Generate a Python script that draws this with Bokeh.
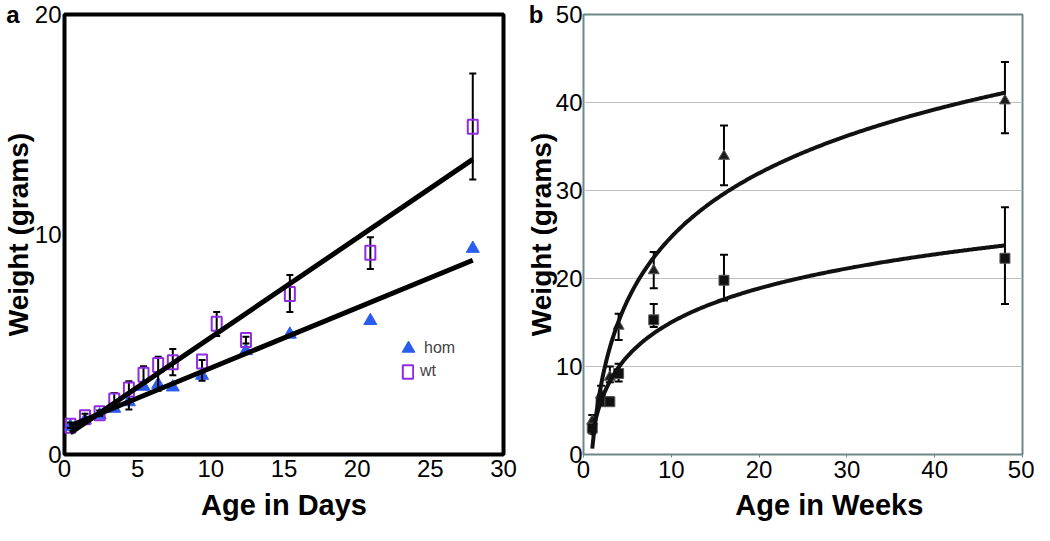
import numpy as np
from bokeh.plotting import figure
from bokeh.models import Range1d, FixedTicker, Legend, LegendItem, LinearAxis
from bokeh.layouts import row
from bokeh.embed import file_html
from bokeh.resources import INLINE

FONT = "Liberation Sans"

# ---------------- Panel a data (age in days) ----------------
days_hom = [0.4, 1.4, 2.4, 3.4, 4.4, 5.4, 6.4, 7.4, 9.4, 12.4, 15.4, 20.9, 27.9]
hom = [1.27, 1.56, 1.79, 2.09, 2.39, 3.09, 3.18, 3.06, 3.59, 4.71, 5.46, 6.08, 9.36]
days_wt = [0.4, 1.4, 2.4, 3.4, 4.4, 5.4, 6.4, 7.4, 9.4, 10.4, 12.4, 15.4, 20.9, 27.9]
wt = [1.31, 1.69, 1.87, 2.46, 2.96, 3.62, 4.07, 4.19, 4.23, 5.94, 5.20, 7.30, 9.17, 14.90]
wt_hi = [1.45, 1.85, 2.00, 2.80, 3.33, 4.01, 4.44, 4.79, 4.30, 6.48, 5.35, 8.16, 9.87, 17.32]
wt_lo = [1.20, 1.55, 1.75, 2.20, 2.04, 3.25, 2.90, 3.60, 3.35, 5.39, 5.05, 6.48, 8.43, 12.50]
a_xticks = [0, 5, 10, 15, 20, 25, 30]
a_yticks = [0, 10, 20]

# ---------------- Panel b data (age in weeks) ----------------
weeks = [1, 2, 3, 4, 8, 16, 48]
tri = [3.8, 6.8, 8.8, 14.6, 20.9, 33.9, 40.2]
tri_hi = [4.5, 7.8, 10.0, 16.0, 23.0, 37.4, 44.6]
tri_lo = [3.0, 6.2, 8.2, 13.0, 18.9, 30.6, 36.5]
sq = [3.0, 6.0, 6.0, 9.2, 15.3, 19.8, 22.3]
sq_hi = [3.6, 6.4, 6.5, 10.3, 17.1, 22.7, 28.1]
sq_lo = [2.4, 5.6, 5.6, 8.3, 14.5, 17.5, 17.1]
b_xticks = [0, 10, 20, 30, 40, 50]
b_yticks = [0, 10, 20, 30, 40, 50]
b_xtitle_at = 28  # where the "Age in Weeks" title is centred (offset right, as in the original)

BLUE = "#2a5cf0"
PURPLE = "#8f2be0"
FRAME_B = "#6d8787"


def style_axis(ax, size):
    ax.axis_line_color = None
    ax.major_tick_line_color = None
    ax.minor_tick_line_color = None
    ax.major_tick_out = 0
    ax.major_tick_in = 0
    ax.minor_tick_out = 0
    ax.minor_tick_in = 0
    ax.major_label_text_font = FONT
    ax.major_label_text_font_size = size
    ax.major_label_text_color = "black"
    ax.axis_label_text_font = FONT
    ax.axis_label_text_font_size = "29px"
    ax.axis_label_text_font_style = "bold"
    ax.axis_label_text_color = "black"


def letter_axis(letter, tick, standoff, title_standoff):
    # outer left axis carrying the panel letter (one label) and the y title
    ax = LinearAxis(ticker=FixedTicker(ticks=[tick]),
                    major_label_overrides={tick: letter})
    style_axis(ax, "24px")
    ax.major_label_text_font_style = "bold"
    ax.major_label_standoff = standoff
    ax.axis_label = "Weight (grams)"
    ax.axis_label_text_font_size = "28px"
    ax.axis_label_standoff = title_standoff
    return ax


# ================= Panel a =================
pa = figure(width=522, height=525, x_range=Range1d(0, 30), y_range=Range1d(0, 20),
            output_backend="svg", toolbar_location=None,
            min_border_left=56, min_border_right=19, min_border_top=14, min_border_bottom=71)
pa.outline_line_color = "black"
pa.outline_line_width = 4
pa.grid.visible = False
xa = pa.xaxis[0]
ya = pa.yaxis[0]
xa.ticker = FixedTicker(ticks=a_xticks)
ya.ticker = FixedTicker(ticks=a_yticks)
style_axis(xa, "24px")
style_axis(ya, "24px")
xa.major_label_standoff = 5
xa.axis_label = "Age in Days"
xa.axis_label_standoff = 9
ya.major_label_standoff = 3
pa.add_layout(letter_axis("a", 20, 12, -31), "left")

tri_r = pa.scatter(days_hom, hom, marker="triangle", size=13,
                   fill_color=BLUE, line_color=BLUE)
pa.segment(x0=days_wt, y0=wt_lo, x1=days_wt, y1=wt_hi, line_color="black", line_width=2)
pa.scatter(days_wt, wt_hi, marker="dash", size=7, line_color="black", line_width=2)
pa.scatter(days_wt, wt_lo, marker="dash", size=7, line_color="black", line_width=2)
sq_r = pa.rect(days_wt, wt, width=10, height=14, width_units="screen", height_units="screen",
               fill_color=None, line_color=PURPLE, line_width=2)

# linear trend lines fitted to each series
for xs, ys in ((days_wt, wt), (days_hom, hom)):
    k, c = np.polyfit(xs, ys, 1)
    xe = np.array([min(xs), max(xs)])
    pa.line(xe, k * xe + c, line_color="black", line_width=5)

leg1 = Legend(items=[LegendItem(label="hom", renderers=[tri_r])], location=(328, 90),
              glyph_width=32, glyph_height=32, label_height=32, padding=0, margin=0,
              spacing=0, label_standoff=-2, border_line_color=None,
              background_fill_alpha=0, label_text_font=FONT, label_text_font_size="16px")
leg2 = Legend(items=[LegendItem(label="wt", renderers=[sq_r])], location=(337, 74),
              glyph_width=13, glyph_height=17, label_height=17, padding=0, margin=0,
              spacing=0, label_standoff=6, border_line_color=None,
              background_fill_alpha=0, label_text_font=FONT, label_text_font_size="16px")
pa.add_layout(leg1)
pa.add_layout(leg2)

# ================= Panel b =================
pb = figure(width=512, height=525, x_range=Range1d(0, 50), y_range=Range1d(0, 50),
            output_backend="svg", toolbar_location=None,
            min_border_left=52, min_border_right=12, min_border_top=14, min_border_bottom=71)
pb.outline_line_color = FRAME_B
pb.outline_line_width = 2
pb.xgrid.visible = False
pb.ygrid.ticker = FixedTicker(ticks=b_yticks)
pb.ygrid.grid_line_color = "#c0c0c0"
pb.ygrid.grid_line_width = 1
xb = pb.xaxis[0]
yb = pb.yaxis[0]
xb.ticker = FixedTicker(ticks=b_xticks)
yb.ticker = FixedTicker(ticks=b_yticks)
style_axis(xb, "24px")
style_axis(yb, "24px")
xb.major_tick_line_color = FRAME_B
xb.major_tick_out = 3
xb.major_label_standoff = 3
yb.major_label_standoff = 1
pb.add_layout(letter_axis("b", 50, 9, -31), "left")

xb2 = LinearAxis(ticker=FixedTicker(ticks=[b_xtitle_at]),
                 major_label_overrides={b_xtitle_at: "Age in Weeks"})
style_axis(xb2, "29px")
xb2.major_label_text_font_style = "bold"
xb2.major_label_standoff = 8
pb.add_layout(xb2, "below")

for ys, lo, hi in ((tri, tri_lo, tri_hi), (sq, sq_lo, sq_hi)):
    pb.segment(x0=weeks, y0=lo, x1=weeks, y1=hi, line_color="black", line_width=2)
    pb.scatter(weeks, hi, marker="dash", size=8, line_color="black", line_width=2)
    pb.scatter(weeks, lo, marker="dash", size=8, line_color="black", line_width=2)
pb.scatter(weeks, tri, marker="triangle", size=11, fill_color="#1c1c1c", line_color="#5a5a5a")
pb.scatter(weeks, sq, marker="square", size=10, fill_color="#111111", line_color="#5a5a5a")

# logarithmic trend curves fitted to each series
for ys in (tri, sq):
    k, c = np.polyfit(np.log(weeks), ys, 1)
    xc = np.linspace(weeks[0], weeks[-1], 300)
    pb.line(xc, k * np.log(xc) + c, line_color="#111111", line_width=4)

layout = row(pa, pb)
open("out.html", "w").write(file_html(layout, INLINE))
